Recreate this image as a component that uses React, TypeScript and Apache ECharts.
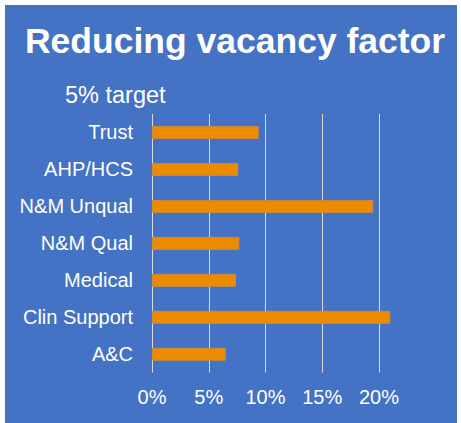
import React, { useEffect, useRef } from "react";
import * as echarts from "echarts";

const categories = ["Trust", "AHP/HCS", "N&M Unqual", "N&M Qual", "Medical", "Clin Support", "A&C"];
const vacancy = [0.094, 0.076, 0.195, 0.077, 0.074, 0.21, 0.065];
const titleText = "Reducing vacancy factor";
const targetText = "5% target";

const FONT = "'Liberation Sans', Arial, sans-serif";

export default function App() {
  const ref = useRef<HTMLDivElement>(null);
  useEffect(() => {
    if (!ref.current) return;
    const chart = echarts.init(ref.current, null, { renderer: "svg" });
    chart.setOption({
      animation: false,
      backgroundColor: "#ffffff",
      graphic: [
        { type: "rect", z: -10, shape: { x: 5, y: 5, width: 452, height: 420 }, style: { fill: "#4472C4" } },
        {
          type: "text", x: 235, y: 41, z: 10,
          style: { text: titleText, fill: "#ffffff", fontSize: 35.5, fontWeight: "bold", fontFamily: FONT, textAlign: "center", textVerticalAlign: "middle" },
        },
        {
          type: "text", x: 65, y: 95, z: 10,
          style: { text: targetText, fill: "#ffffff", fontSize: 23.5, fontFamily: FONT, textAlign: "left", textVerticalAlign: "middle" },
        },
      ],
      grid: { left: 152, right: 25.25, top: 114, bottom: 50.3, containLabel: false },
      xAxis: {
        type: "value",
        min: 0,
        max: 0.25,
        interval: 0.05,
        axisLine: { show: false },
        axisTick: { show: false },
        splitLine: { show: true, showMaxLine: false, lineStyle: { color: "#D9D9D9", width: 1 } },
        axisLabel: {
          showMaxLabel: false,
          color: "#ffffff",
          fontSize: 20,
          fontFamily: FONT,
          margin: 14,
          formatter: (v: number) => Math.round(v * 100) + "%",
        },
      },
      yAxis: {
        type: "category",
        data: categories,
        inverse: true,
        axisLine: { show: false },
        axisTick: { show: false },
        axisLabel: { color: "#ffffff", fontSize: 20, fontFamily: FONT, margin: 19 },
      },
      series: [
        {
          type: "bar",
          data: vacancy,
          barWidth: 13,
          itemStyle: { color: "#ED8B00", borderColor: "#C98A3A", borderWidth: 1 },
        },
      ],
    });
    return () => chart.dispose();
  }, []);
  return <div ref={ref} style={{ position: "fixed", left: 0, top: 0, width: 461, height: 423 }} />;
}
